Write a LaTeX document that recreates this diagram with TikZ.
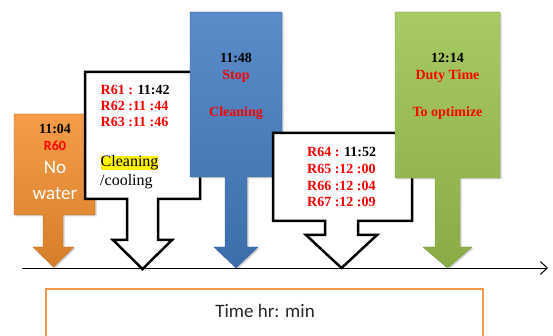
\documentclass[tikz,border=0pt]{standalone}
\usepackage{fontspec}
\setmainfont{Liberation Serif}
\newfontfamily\calib{Carlito}
\usetikzlibrary{arrows.meta,shadows}
\definecolor{orng}{HTML}{F38F2E}
\definecolor{blu}{HTML}{447DC2}
\definecolor{grn}{HTML}{9CC24F}
\definecolor{brd}{HTML}{F79646}
\definecolor{rd}{HTML}{FF0000}
\tikzset{
  shad/.style={drop shadow={shadow xshift=1.5pt,shadow yshift=-1.5pt,opacity=0.35}},
  colbox/.style={shad,top color=#1!88!white,middle color=#1,bottom color=#1!88!black,draw=#1!80!black,line width=0.4pt},
  whitebox/.style={fill=white,draw=black,line width=2.5pt,line join=miter},
  lbl/.style={inner sep=0pt,anchor=base},
  lblw/.style={inner sep=0pt,anchor=base west},
  bser/.style={font=\fontsize{14}{16}\selectfont\bfseries},
}
\begin{document}
\begin{tikzpicture}[x=1pt,y=-1pt]
\useasboundingbox (0,0) rectangle (553,336);
% orange callout
\path[colbox=orng] (14,114) -- (95,114) -- (95,215) -- (63,215) -- (63,247) -- (74,247) -- (53.5,267) -- (33,247) -- (43,247) -- (43,215) -- (14,215) -- cycle;
\node[lbl,bser] (t1104) at (55,134) {11:04};
\node[lbl,font=\calib\fontsize{14}{16}\selectfont\bfseries,text=rd] (r60) at (55,151) {R60};
\node[lbl,font=\calib\fontsize{19}{22}\selectfont,text=white] (no) at (55,174) {No};
\node[lbl,font=\calib\fontsize{19}{22}\selectfont,text=white] (water) at (55,200) {water};
% white callout 1
\path[whitebox] (85,72) -- (200,72) -- (200,199) -- (158,199) -- (158,240) -- (172,240) -- (142.5,269) -- (113,240) -- (127,240) -- (127,199) -- (85,199) -- cycle;
\node[lblw,bser] (r61) at (100.5,95) {\textcolor{rd}{R61 :} 11:42};
\node[lblw,bser,text=rd] (r62) at (100.5,111) {R62 :11 :44};
\node[lblw,bser,text=rd] (r63) at (100.5,127) {R63 :11 :46};
\node[lblw,font=\fontsize{16}{19}\selectfont,fill=yellow] (clean) at (100.5,167) {Cleaning};
\node[lblw,font=\fontsize{16}{19}\selectfont] (cool) at (100,186) {/cooling};
% blue callout
\path[colbox=blu] (190,12) -- (282,12) -- (282,177) -- (247,177) -- (247,247) -- (258,247) -- (236,268) -- (214,247) -- (225,247) -- (225,177) -- (190,177) -- cycle;
\node[lbl,bser] (t1148) at (236,63) {11:48};
\node[lbl,bser,text=rd] (stop) at (236,80) {Stop};
\node[lbl,bser,text=rd] (bclean) at (236,117) {Cleaning};
% white callout 2
\path[whitebox] (273,133) -- (412,133) -- (412,221) -- (358,221) -- (358,235) -- (377,235) -- (341.5,268) -- (306,235) -- (325,235) -- (325,221) -- (273,221) -- cycle;
\node[lblw,bser] (r64) at (307,157) {\textcolor{rd}{R64 :} 11:52};
\node[lblw,bser,text=rd] (r65) at (307,174) {R65 :12 :00};
\node[lblw,bser,text=rd] (r66) at (307,191) {R66 :12 :04};
\node[lblw,bser,text=rd] (r67) at (307,207) {R67 :12 :09};
% green callout
\path[colbox=grn] (395,12) -- (500,12) -- (500,178) -- (460,178) -- (460,247) -- (472,247) -- (447.5,268) -- (423,247) -- (435,247) -- (435,178) -- (395,178) -- cycle;
\node[lbl,bser] (t1214) at (447.5,63) {12:14};
\node[lbl,bser,text=rd] (duty) at (447.5,80) {Duty Time};
\node[lbl,bser,text=rd] (opt) at (447.5,117) {To optimize};
% time axis
\coordinate (axs) at (22,268);
\coordinate (axe) at (548,268);
\draw[line width=1pt,-{Straight Barb[length=7pt,width=13pt]}] (axs) -- (axe);
% bottom label box
\draw[draw=brd,line width=2.5pt] (46,289) rectangle (483,345);
\node[lbl,font=\calib\fontsize{19}{22}\selectfont,text=black!85] (time) at (265,317) {Time hr: min};
\end{tikzpicture}
\end{document}
